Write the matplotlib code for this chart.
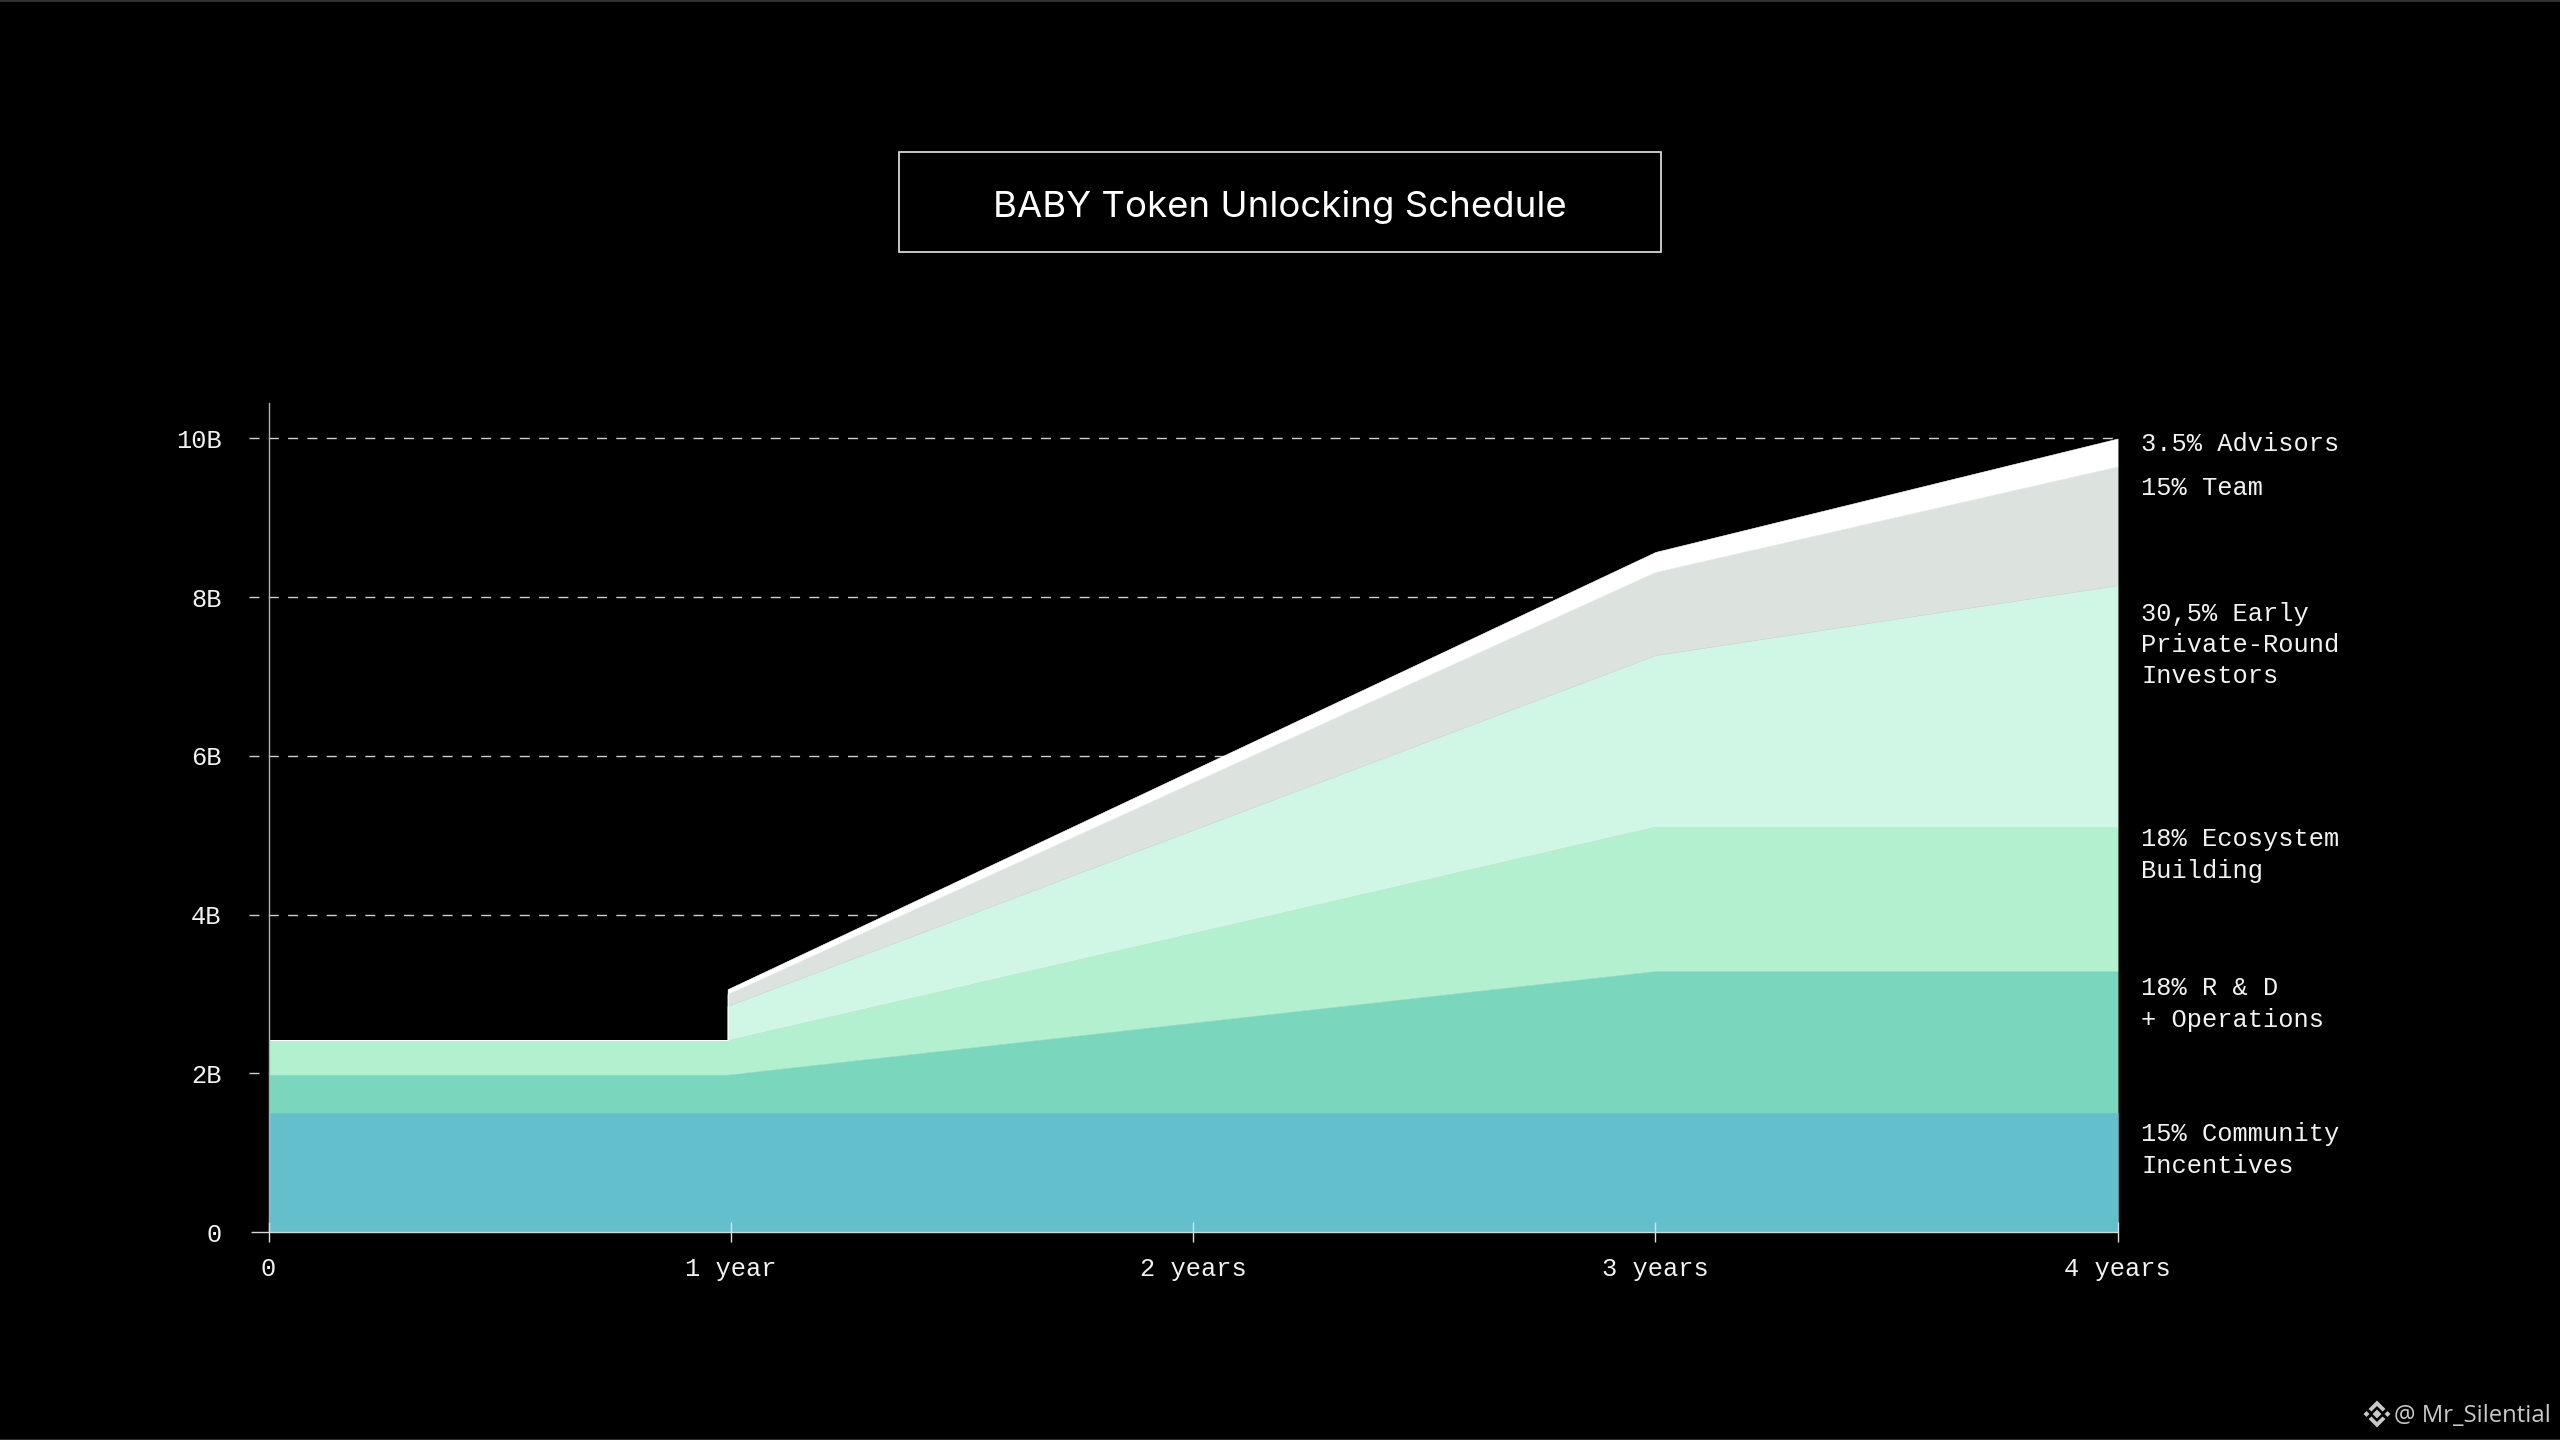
import matplotlib
matplotlib.use('Agg')
import matplotlib.pyplot as plt
from matplotlib.patches import Polygon, Rectangle

# Values in billions of tokens, one entry per point in x_years.
# The first year is listed twice because of the cliff at the 1 year mark.
x_years = [0, 0.993, 0.993, 3, 4]
community = [1.5, 1.5, 1.5, 1.5, 1.5]
research = [0.485, 0.485, 0.485, 1.79, 1.79]
ecosystem = [0.435, 0.435, 0.435, 1.82, 1.82]
early_investors = [0, 0, 0.43, 2.16, 3.04]
team = [0, 0, 0.15, 1.05, 1.5]
advisors = [0, 0, 0.06, 0.25, 0.35]

series_colors = ['#63BFCB', '#7AD6BC', '#B3F0CF', '#D0F6E5', '#DCE3DF', '#FFFFFF']

y_ticks = [0, 2, 4, 6, 8, 10]
y_tick_labels = ['0', '2B', '4B', '6B', '8B', '10B']
x_ticks = [0, 1, 2, 3, 4]
x_tick_labels = ['0', '1 year', '2 years', '3 years', '4 years']

title = 'BABY Token Unlocking Schedule'
side_labels = [
    '3.5% Advisors',
    '15% Team',
    '30,5% Early\nPrivate-Round\nInvestors',
    '18% Ecosystem\nBuilding',
    '18% R & D\n+ Operations',
    '15% Community\nIncentives',
]
side_label_y = [444, 488, 645, 855, 1004, 1150]  # px from the top

MONO = 'Liberation Mono'
TEXT = '#F2F2F2'
AXIS = '#B0B0B0'

fig = plt.figure(figsize=(25.6, 14.4), dpi=100, facecolor='black')

# Chart area, placed in pixels.
left, right, top, bottom = 268.6, 2117.6, 403, 1232
ax = fig.add_axes([left / 2560, (1440 - bottom) / 1440,
                   (right - left) / 2560, (bottom - top) / 1440],
                  facecolor='black')
ax.set(xlim=(0, 4), ylim=(0, (bottom - top) / 79.35))

# Dashed guides start just left of the axis and act as the y ticks.
ax.hlines(y_ticks[1:], -0.0425, 4, colors='#CFCFCF', linewidth=1,
          linestyles=(0, (7.2, 6.7)), clip_on=False, zorder=1)
areas = ax.stackplot(x_years, community, research, ecosystem, early_investors, team,
                     advisors, colors=series_colors, zorder=2)
# Edge in the fill colour, otherwise the black background shows in the seams.
for area, color in zip(areas, series_colors):
    area.set_edgecolor(color)
    area.set_linewidth(0.4)
ax.hlines(0, -0.039, 4, colors='#D8D8D8', linewidth=1, clip_on=False, zorder=3)

for name, spine in ax.spines.items():
    spine.set_visible(name == 'left')
ax.spines['left'].set_color(AXIS)
ax.spines['left'].set_linewidth(1)
ax.set_axisbelow(False)

ax.set_xticks(x_ticks, x_tick_labels, family=MONO, fontsize=18.3, color=TEXT)
ax.set_yticks(y_ticks, y_tick_labels, family=MONO, fontsize=18.3, color=TEXT)
ax.tick_params(axis='x', direction='inout', length=14.4, width=1, color='#E0E0E0', pad=11)
ax.tick_params(axis='y', length=0, pad=34)

# Everything around the chart is placed on a full size overlay in pixels.
overlay = fig.add_axes([0, 0, 1, 1], facecolor='none')
overlay.set(xlim=(0, 2560), ylim=(1440, 0))
overlay.axis('off')
overlay.set_zorder(2)

overlay.hlines([0.5, 1439.5], 0, 2560, colors='#3A3A3A', linewidth=1.2)
overlay.add_patch(Rectangle((899, 152), 762, 100, fill=False, edgecolor='#E8E8E8', linewidth=1.2))
overlay.text(1280, 207, title, family='Inter', fontsize=26.3, color='white', ha='center', va='center')

for label, y in zip(side_labels, side_label_y):
    overlay.text(2141, y, label, family=MONO, fontsize=18.3, color=TEXT,
                 va='center', ha='left', linespacing=1.37)

# Watermark with the small diamond logo.
GREY = '#C9C9C9'
cx, cy = 2377, 1414
diamonds = [(0, 0, 4.5), (-10.5, 0, 3), (10.5, 0, 3)]
for dx, dy, r in diamonds:
    overlay.add_patch(Polygon([(cx + dx - r, cy + dy), (cx + dx, cy + dy - r),
                               (cx + dx + r, cy + dy), (cx + dx, cy + dy + r)],
                              color=GREY, linewidth=0))
for sign in (-1, 1):
    overlay.add_patch(Polygon([(cx - 8.5, cy + sign * 5), (cx, cy + sign * 13.5), (cx + 8.5, cy + sign * 5),
                               (cx + 5.5, cy + sign * 2.5), (cx, cy + sign * 8), (cx - 5.5, cy + sign * 2.5)],
                              color=GREY, linewidth=0))
overlay.text(2551, 1416, '@ Mr_Silential', family='Open Sans', fontsize=17.2, color=GREY,
             ha='right', va='center')

fig.savefig('out.png', dpi=100, facecolor='black')
